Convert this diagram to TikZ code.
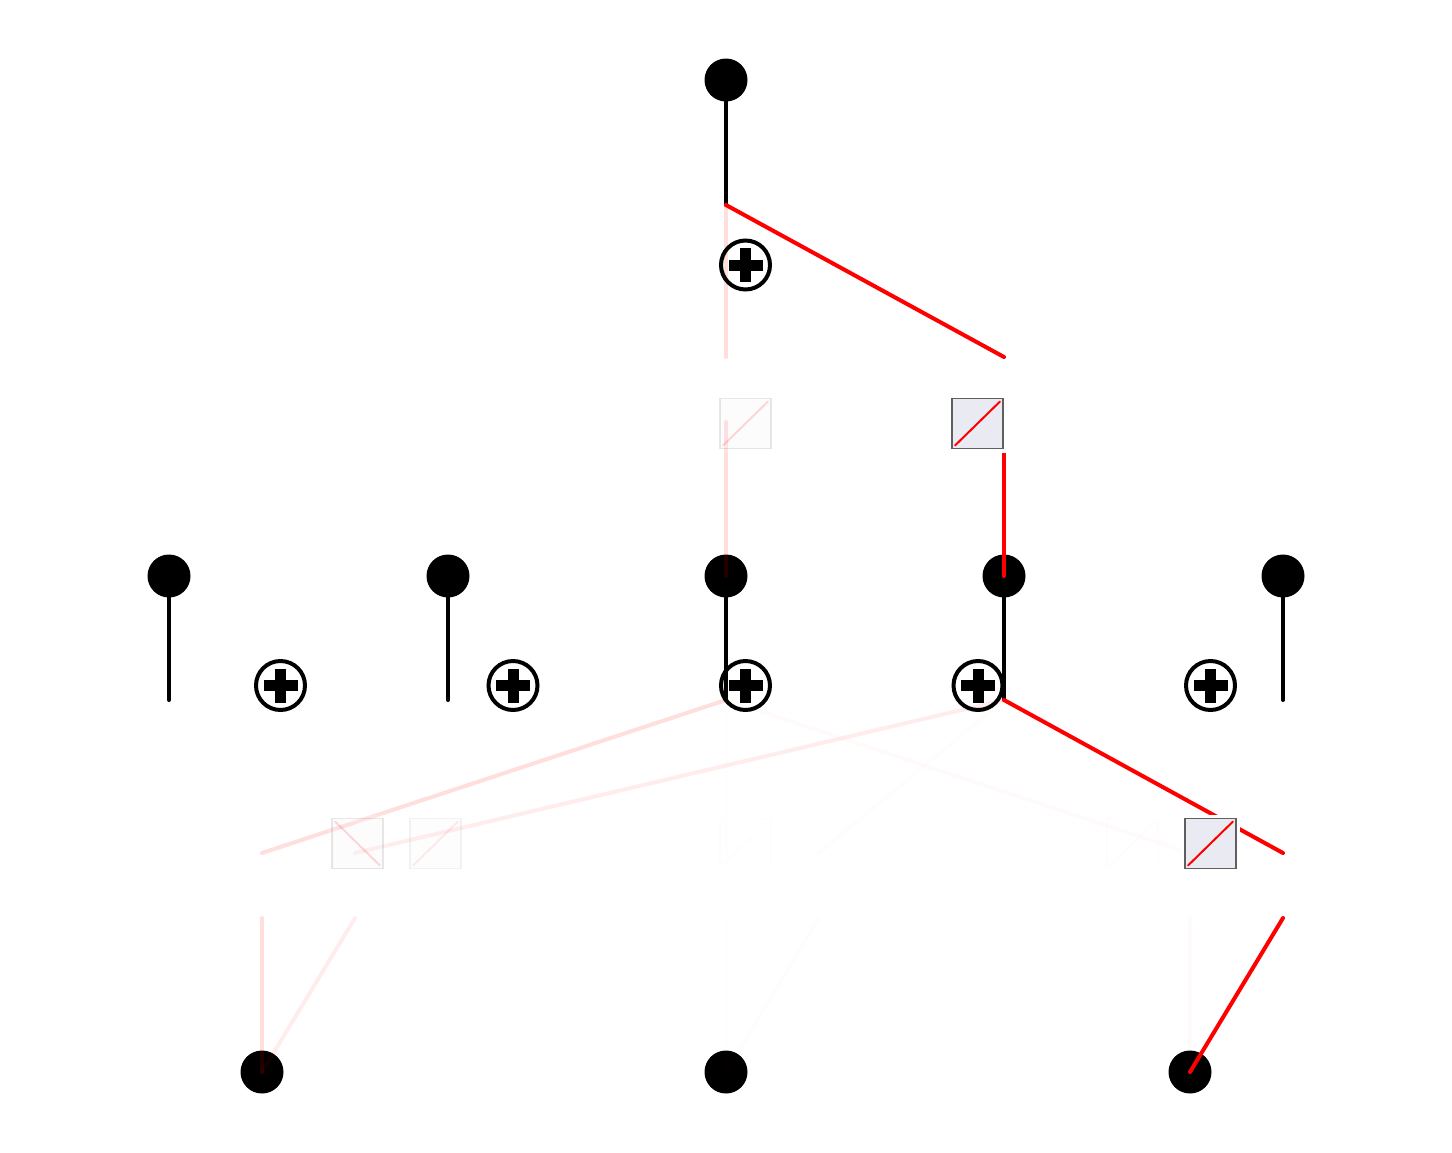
\documentclass[tikz,border=0pt]{standalone}
\definecolor{boxfill}{HTML}{EAEAF2}
\definecolor{boxframe}{HTML}{5F5F5F}
\tikzset{
  dot/.style={circle, fill=black, inner sep=0pt, minimum size=43pt},
  stem/.style={line width=4pt, black, line cap=round},
  edge/.style={line width=4pt, red, line cap=round},
  sumsym/.style={circle, draw=black, line width=4pt, inner sep=0pt, minimum size=49pt,
    path picture={
      \fill[black] ([shift={(-17pt,-5.5pt)}]path picture bounding box.center) rectangle ([shift={(17pt,5.5pt)}]path picture bounding box.center);
      \fill[black] ([shift={(-5.5pt,-17pt)}]path picture bounding box.center) rectangle ([shift={(5.5pt,17pt)}]path picture bounding box.center);
    }},
  fnbox/.style={rectangle, inner sep=0pt, minimum width=51pt, minimum height=50pt,
    fill=boxfill, draw=boxframe, line width=1.5pt, opacity=#1,
    preaction={draw=white, line width=8pt, opacity=#1}},
  upbox/.style={fnbox=#1,
    path picture={\draw[red, line width=2pt, opacity=#1, line cap=round]
      ([shift={(3pt,3pt)}]path picture bounding box.south west) --
      ([shift={(-3pt,-3pt)}]path picture bounding box.north east);}},
  downbox/.style={fnbox=#1,
    path picture={\draw[red, line width=2pt, opacity=#1, line cap=round]
      ([shift={(3pt,-3pt)}]path picture bounding box.north west) --
      ([shift={(-3pt,3pt)}]path picture bounding box.south east);}},
}
\begin{document}
\begin{tikzpicture}[x=1pt, y=-1pt]
\useasboundingbox (0,0) rectangle (1452,1152);

% ---------- nodes ----------
\node[dot] (out) at (726,80) {};
\foreach \i/\x in {0/169,1/448,2/726,3/1004,4/1283}{
  \node[dot] (h\i) at (\x,576) {};
  \coordinate (h\i b) at (\x,700);
}
\node[dot] (in0) at (262,1072) {};
\node[dot] (in1) at (726,1072) {};
\node[dot] (in2) at (1190,1072) {};
\coordinate (outb) at (726,205);

% stems
\draw[stem] (out.center) -- (outb);
\foreach \i in {0,...,4}{ \draw[stem] (h\i.center) -- (h\i b); }

% ---------- slot coordinates ----------
% layer 1 (inputs -> hidden)
\foreach \id/\x in {2/262,3/355,7/726,8/819,12/1190,13/1283}{
  \coordinate (a\id lo) at (\x,918);
  \coordinate (a\id hi) at (\x,853);
}
% layer 2 (hidden -> output)
\foreach \id/\x in {2/726,3/1004}{
  \coordinate (b\id lo) at (\x,422);
  \coordinate (b\id hi) at (\x,357);
}

% ---------- edges, layer 1 ----------
\draw[edge, opacity=0.13] (in0.center) -- (a2lo);
\draw[edge, opacity=0.13] (a2hi) -- (h2b);
\draw[edge, opacity=0.07] (in0.center) -- (a3lo);
\draw[edge, opacity=0.07] (a3hi) -- (h3b);
\draw[edge, opacity=0.008] (in1.center) -- (a7lo);
\draw[edge, opacity=0.008] (a7hi) -- (h2b);
\draw[edge, opacity=0.01] (in1.center) -- (a8lo);
\draw[edge, opacity=0.01] (a8hi) -- (h3b);
\draw[edge, opacity=0.015] (in2.center) -- (a12lo);
\draw[edge, opacity=0.015] (a12hi) -- (h2b);
\draw[edge] (in2.center) -- (a13lo);
\draw[edge] (a13hi) -- (h3b);

% ---------- edges, layer 2 ----------
\draw[edge, opacity=0.13] (h2.center) -- (b2lo);
\draw[edge, opacity=0.13] (b2hi) -- (outb);
\draw[edge] (h3.center) -- (b3lo);
\draw[edge] (b3hi) -- (outb);

% ---------- activation boxes ----------
\node[downbox=0.15] (f2) at (357.5,843.5) {};
\node[upbox=0.08] (f3) at (435.5,843.5) {};
\node[upbox=0.01] (f7) at (745.5,843.5) {};
\node[upbox=0.012] (f12) at (1132.5,843.5) {};
\node[upbox=1] (f13) at (1210.5,843.5) {};
\node[upbox=0.15] (g2) at (745.5,423.5) {};
\node[upbox=1] (g3) at (977.5,423.5) {};

% ---------- sum symbols ----------
\node[sumsym] (s0) at (280.5,685.5) {};
\node[sumsym] (s1) at (513,685.5) {};
\node[sumsym] (s2) at (745.5,685.5) {};
\node[sumsym] (s3) at (978,685.5) {};
\node[sumsym] (s4) at (1210.5,685.5) {};
\node[sumsym] (st) at (745.5,265) {};
\end{tikzpicture}
\end{document}
